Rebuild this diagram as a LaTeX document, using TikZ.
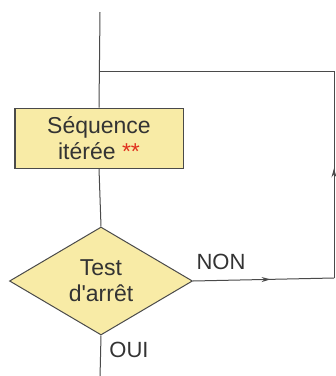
\documentclass[tikz,border=0pt]{standalone}
\usepackage{fontspec}
\setmainfont{Liberation Sans}
\usetikzlibrary{shapes.geometric,arrows.meta,decorations.markings}
\definecolor{boxfill}{HTML}{F8EBA6}
\definecolor{linegray}{HTML}{4A4A4A}
\definecolor{starred}{HTML}{E0301E}
\tikzset{
  flow/.style={draw=linegray, line width=1pt},
  seqbox/.style={flow, fill=boxfill, minimum width=168pt, minimum height=60pt, inner sep=0pt, align=center, font=\fontsize{23}{26}\selectfont, text=black!80},
  testbox/.style={flow, fill=boxfill, shape=diamond, aspect=1.7, minimum width=183pt, minimum height=108pt, inner sep=0pt, align=center, font=\fontsize{23}{26}\selectfont, text=black!80},
  lbl/.style={font=\fontsize{22}{25}\selectfont, text=black!80, inner sep=0pt},
  midarrow/.style={postaction={decorate}, decoration={markings, mark=at position #1 with {\arrow{Stealth[length=9pt,width=5pt]}}}}
}
\begin{document}
\begin{tikzpicture}[x=1pt,y=-1pt]
\useasboundingbox (0,0) rectangle (336,376);
\coordinate (top) at (100,12);
\coordinate (join) at (100,71);
\coordinate (tr) at (334,71);
\coordinate (br) at (334,278);
\coordinate (bot) at (100,378);
\node[seqbox] (seq) at (99,138) {Séquence\\itérée \textcolor{starred}{**}};
\node[testbox] (test) at (101,281) {Test\\d\textquotesingle arrêt};
\draw[flow] (top) -- (seq.north);
\draw[flow] (seq.south) -- (test.north);
\draw[flow] (test.south) -- (bot);
\draw[flow, midarrow=0.55] (test.east) -- (br);
\draw[flow, midarrow=0.53] (br) -- (tr);
\draw[flow] (tr) -- (join);
\node[lbl] (non) at (221,262) {NON};
\node[lbl] (oui) at (129,350) {OUI};
\end{tikzpicture}
\end{document}
